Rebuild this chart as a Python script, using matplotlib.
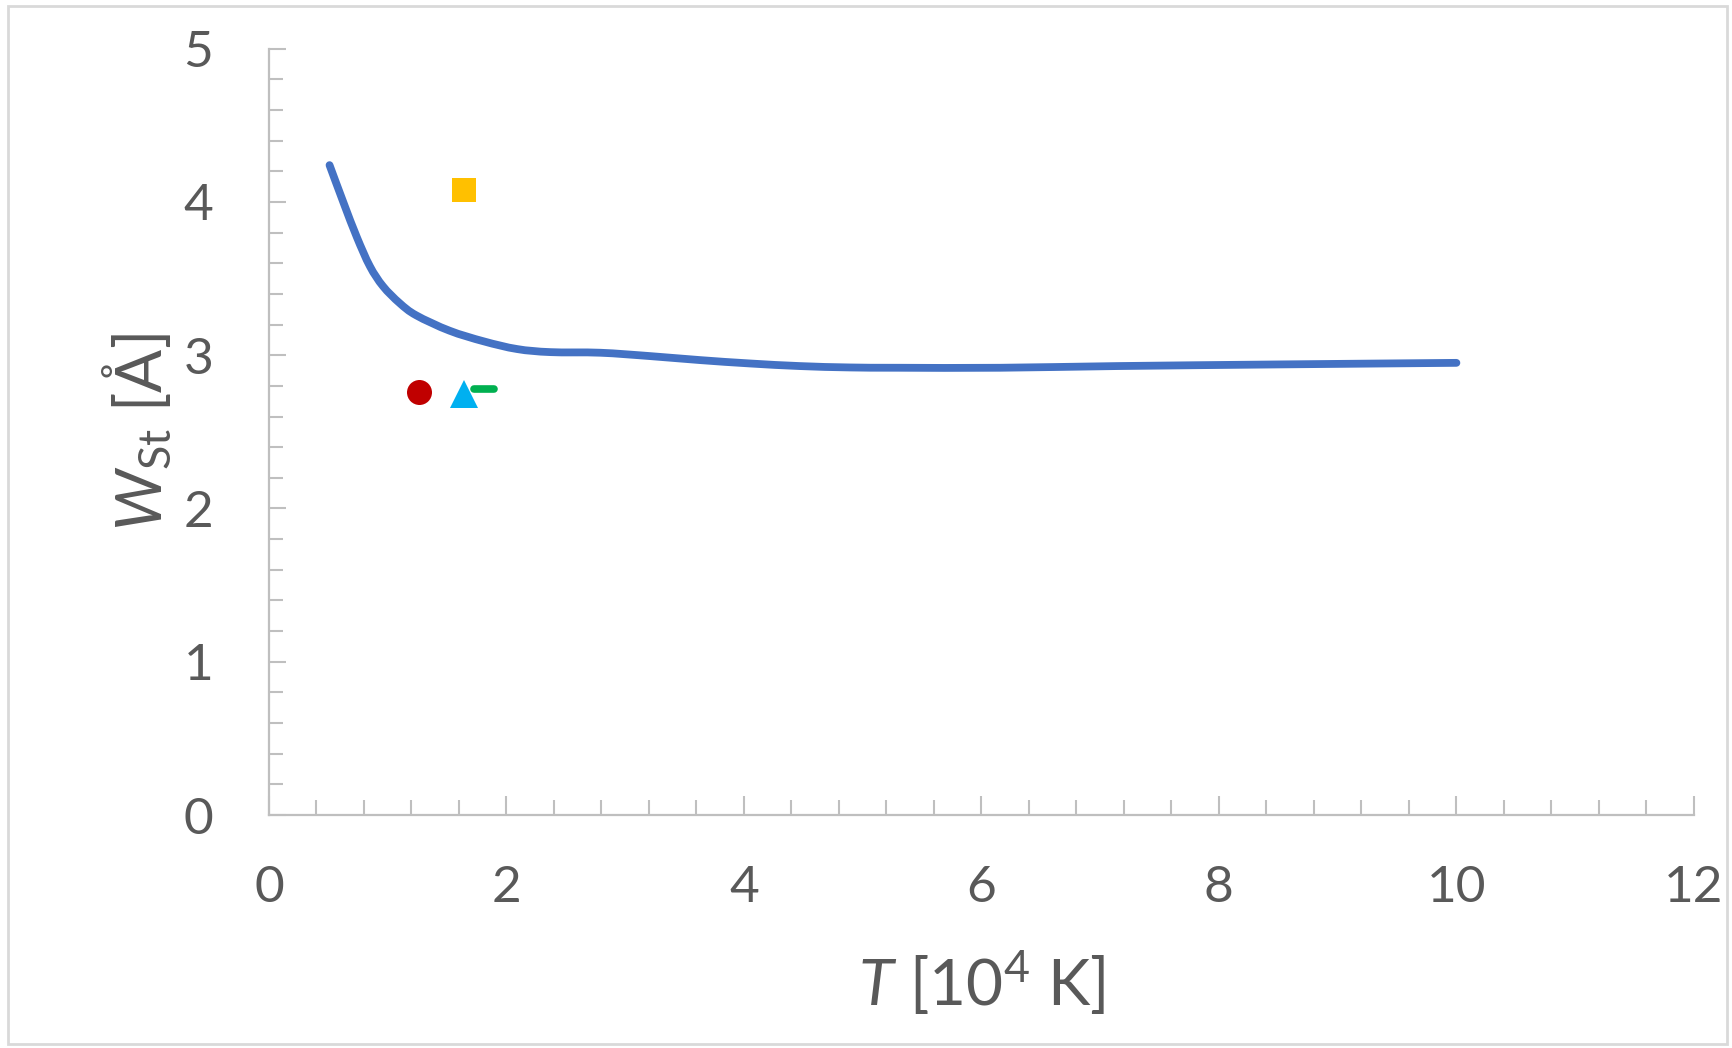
"""Stark width W_St against temperature T, with reference measurements."""

import numpy as np
import matplotlib
matplotlib.use("Agg")
import matplotlib.pyplot as plt
from matplotlib.markers import MarkerStyle
from matplotlib.patches import PathPatch, Rectangle
from matplotlib.path import Path
from matplotlib.ticker import MultipleLocator

plt.rcParams["font.family"] = ["Lato", "DejaVu Sans"]
plt.rcParams["mathtext.fontset"] = "custom"
plt.rcParams["mathtext.rm"] = "Lato"
plt.rcParams["mathtext.it"] = "Lato:italic"

# calculated Stark width, T in 10^4 K, W in Angstrom
calc_T = [0.51, 0.63, 0.74, 0.85, 0.96, 1.10, 1.24, 1.52, 1.81, 2.09, 2.37,
          2.79, 3.21, 3.63, 4.05, 4.47, 4.89, 5.31, 6.16, 7.14, 8.54, 10.0]
calc_W = [4.24, 3.99, 3.77, 3.58, 3.45, 3.34, 3.26, 3.16, 3.09, 3.04, 3.02,
          3.016, 2.994, 2.968, 2.946, 2.929, 2.92, 2.918, 2.918, 2.929, 2.94, 2.95]

# single measured points
meas_T = [1.645, 1.263, 1.642, 1.808]
meas_W = [4.08, 2.76, 2.75, 2.78]

_AXIS_GREY = "#bfbfbf"
_TEXT_GREY = "#595959"


def smooth_path(x, y):
    """Catmull-Rom style Bezier path through the points (spreadsheet 'smoothed line')."""
    p = np.column_stack([x, y]).astype(float)
    verts = [p[0]]
    codes = [Path.MOVETO]
    n = len(p)
    for i in range(n - 1):
        p0 = p[i - 1] if i > 0 else p[i]
        p1, p2 = p[i], p[i + 1]
        p3 = p[i + 2] if i + 2 < n else p[i + 1]
        c1 = p1 + (p2 - p0) / 6.0
        c2 = p2 - (p3 - p1) / 6.0
        verts += [c1, c2, p2]
        codes += [Path.CURVE4] * 3
    return Path(verts, codes)


fig = plt.figure(figsize=(17.32, 10.48), dpi=100)
ax = fig.add_axes([0.1553, 0.2223, 0.978 - 0.1553, 0.9536 - 0.2223])

ax.add_patch(PathPatch(smooth_path(calc_T, calc_W), fill=False, edgecolor="#4472C4",
                       lw=5.6, capstyle="round", joinstyle="round", zorder=3))

ax.plot(meas_T[0], meas_W[0], ls="none", marker="s", ms=17, color="#FFC000", mew=0)
ax.plot(meas_T[1], meas_W[1], ls="none", marker="o", ms=18, color="#C00000", mew=0)
ax.plot(meas_T[2], meas_W[2], ls="none", marker="^", ms=20, color="#00B0F0", mew=0)
ax.plot(meas_T[3], meas_W[3], ls="none", marker=MarkerStyle("_", capstyle="round"),
        ms=15, mew=5.5, color="#00B050")

ax.set_xlim(0, 12)
ax.set_ylim(0, 5)
ax.xaxis.set_major_locator(MultipleLocator(2))
ax.xaxis.set_minor_locator(MultipleLocator(0.4))
ax.yaxis.set_major_locator(MultipleLocator(1))
ax.yaxis.set_minor_locator(MultipleLocator(0.2))

for side in ("top", "right"):
    ax.spines[side].set_visible(False)
for side in ("left", "bottom"):
    ax.spines[side].set_color(_AXIS_GREY)
    ax.spines[side].set_linewidth(1.6)

ax.tick_params(axis="both", which="both", direction="in", color=_AXIS_GREY,
               width=1.5, labelcolor=_TEXT_GREY, labelsize=37)
ax.tick_params(axis="x", which="major", length=14, pad=36)
ax.tick_params(axis="x", which="minor", length=11)
ax.tick_params(axis="y", which="major", length=12, pad=40)
ax.tick_params(axis="y", which="minor", length=10)

ax.set_xlabel(r"$T$ [10$^{4}$ K]", fontsize=46, color=_TEXT_GREY, va="center")
ax.set_ylabel(r"$W_{\mathrm{St}}$ [Å]", fontsize=46, color=_TEXT_GREY, va="center")
ax.xaxis.set_label_coords(0.5, -0.219)
ax.yaxis.set_label_coords(-0.092, 0.5)

# chart area outline
fig.patches.append(Rectangle((8 / 1732, 4 / 1048), 1719 / 1732, 1038 / 1048,
                             transform=fig.transFigure, fill=False,
                             edgecolor="#d9d9d9", lw=2))

fig.savefig("out.png", dpi=100)
